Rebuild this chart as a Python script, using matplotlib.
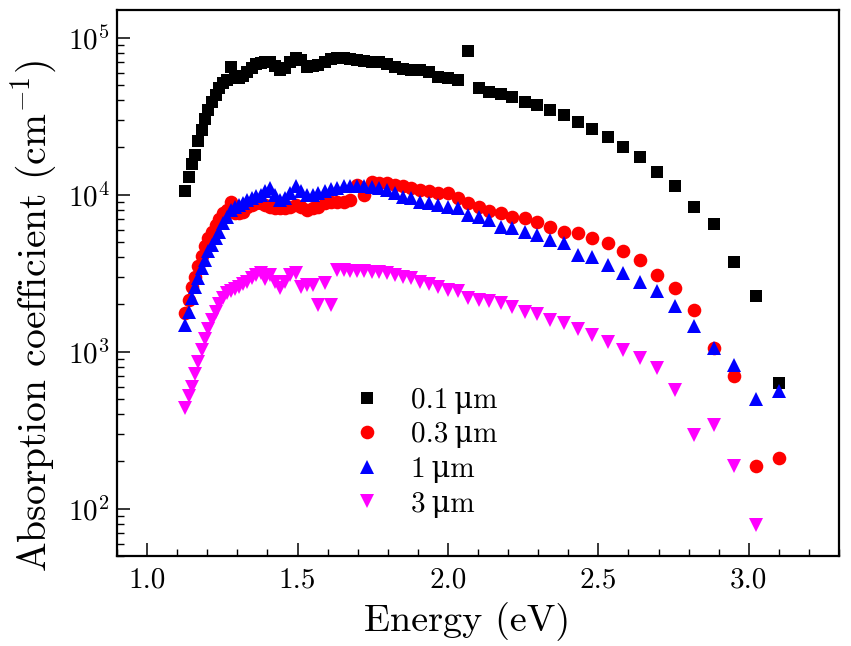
import numpy as np
import matplotlib
matplotlib.use('Agg')
import matplotlib.pyplot as plt

plt.rcParams['font.family'] = ['cmr10', 'DejaVu Serif']
plt.rcParams['mathtext.fontset'] = 'cm'
plt.rcParams['axes.formatter.use_mathtext'] = True
plt.rcParams['axes.unicode_minus'] = False

# wavelength grid (nm) -> photon energy (eV)
wavelength = np.arange(1100, 390, -10)
energy = 1240.0 / wavelength

# absorption coefficient (cm^-1), ordered from 1100 nm down to 400 nm
alpha_01 = [10500, 13000, 15700, 17900, 22000, 25800, 30300, 34700, 39200, 43200,
            47600, 51300, 53700, 65300, 55300, 55300, 57000, 60300, 64100, 68100,
            69000, 70300, 70300, 66100, 62400, 64100, 70300, 74000, 72100, 65300,
            65600, 67000, 70000, 73100, 74300, 73800, 72900, 72100, 71100, 70300,
            70300, 68100, 65000, 63100, 62200, 61800, 60500, 56500, 55300, 53800,
            82600, 47600, 45300, 43900, 42100, 39200, 37300, 34700, 32200, 29200,
            26200, 23400, 20200, 17500, 14000, 11400, 8400, 6490, 3750, 2270, 631]
alpha_03 = [1760, 2140, 2600, 3010, 3490, 4070, 4680, 5280, 5820, 6420,
            7000, 7600, 8000, 9030, 7620, 7700, 7800, 8400, 8610, 8830,
            8800, 8600, 8400, 8200, 8200, 8200, 8400, 8610, 8400, 8000,
            8200, 8400, 8830, 9030, 9030, 9030, 9270, 11500, 9980, 12100,
            11800, 11800, 11500, 11300, 11000, 10700, 10500, 10200, 10200, 9500,
            8830, 8330, 7920, 7620, 7260, 7150, 6740, 6270, 5820, 5690,
            5280, 4910, 4350, 3850, 3090, 2560, 1850, 1050, 703, 188, 209]
alpha_1 = [1480, 1800, 2190, 2600, 2940, 3400, 3850, 4350, 4790, 5280,
           5820, 6590, 7260, 8000, 8400, 8610, 8830, 9300, 9500, 9800,
           10000, 10500, 11000, 10000, 9270, 9500, 10300, 11300, 10500, 9980,
           10000, 10200, 10500, 10800, 11000, 11300, 11300, 11300, 11300, 11200,
           11000, 10700, 10200, 9730, 9500, 9030, 8830, 8600, 8400, 8200,
           7430, 7260, 6920, 6270, 6120, 5820, 5550, 5150, 4910, 4140,
           4000, 3570, 3190, 2800, 2420, 1960, 1450, 1050, 826, 499, 566]
alpha_3 = [440, 520, 600, 720, 860, 1030, 1200, 1400, 1600, 1800,
           2000, 2190, 2350, 2450, 2500, 2600, 2700, 2800, 2940, 3100,
           3160, 2900, 3080, 2800, 2540, 2800, 3080, 3160, 2600, 2670,
           2670, 1990, 2730, 1990, 3320, 3300, 3250, 3250, 3250, 3200,
           3200, 3160, 3100, 3000, 2940, 2800, 2700, 2600, 2480, 2420,
           2190, 2140, 2090, 2040, 1940, 1800, 1740, 1600, 1530, 1390,
           1280, 1160, 1030, 910, 787, 572, 296, 343, 188, 79, np.nan]

labels = ['0.1\u2009\u03bcm', '0.3\u2009\u03bcm', '1\u2009\u03bcm', '3\u2009\u03bcm']

fig = plt.figure(figsize=(8.51, 6.46), dpi=100)
ax = fig.add_axes([0.1375, 0.1393, 0.8485, 0.8452])

ax.plot(energy, alpha_01, 's', color='black', ms=8.8, mew=0, label=labels[0])
ax.plot(energy, alpha_03, 'o', color='red', ms=9.8, mew=0, label=labels[1])
ax.plot(energy, alpha_1, '^', color='blue', ms=10.5, mew=0, label=labels[2])
ax.plot(energy, alpha_3, 'v', color='magenta', ms=10.5, mew=0, label=labels[3])

ax.set_yscale('log')
ax.set_xlim(0.9, 3.3)
ax.set_ylim(50, 1.5e5)
ax.set_xticks([1.0, 1.5, 2.0, 2.5, 3.0])
ax.set_xticklabels(['1.0', '1.5', '2.0', '2.5', '3.0'])
ax.xaxis.set_minor_locator(matplotlib.ticker.MultipleLocator(0.1))
ax.yaxis.set_minor_locator(matplotlib.ticker.LogLocator(base=10, subs=np.arange(2, 10)))
ax.yaxis.set_minor_formatter(matplotlib.ticker.NullFormatter())

ax.tick_params(which='both', direction='in', top=False, right=False, labelsize=21)
ax.tick_params(axis='x', which='both', pad=8)
ax.tick_params(axis='y', which='both', pad=5)
ax.tick_params(which='major', length=9.5, width=1.1)
ax.tick_params(which='minor', length=4.8, width=1.0)
for sp in ax.spines.values():
    sp.set_linewidth(1.6)

ax.set_xlabel('Energy (eV)', fontsize=27.5)
ax.set_ylabel('Absorption coefficient (cm$^{-1}$)', fontsize=28.5)
ax.xaxis.set_label_coords(0.485, -0.085)
ax.yaxis.set_label_coords(-0.08, 0.44)

ax.legend(loc='upper left', bbox_to_anchor=(0.29, 0.33), frameon=False, fontsize=21,
          handletextpad=0.5, labelspacing=0.28, borderaxespad=0)

fig.savefig('out.png', dpi=100)
